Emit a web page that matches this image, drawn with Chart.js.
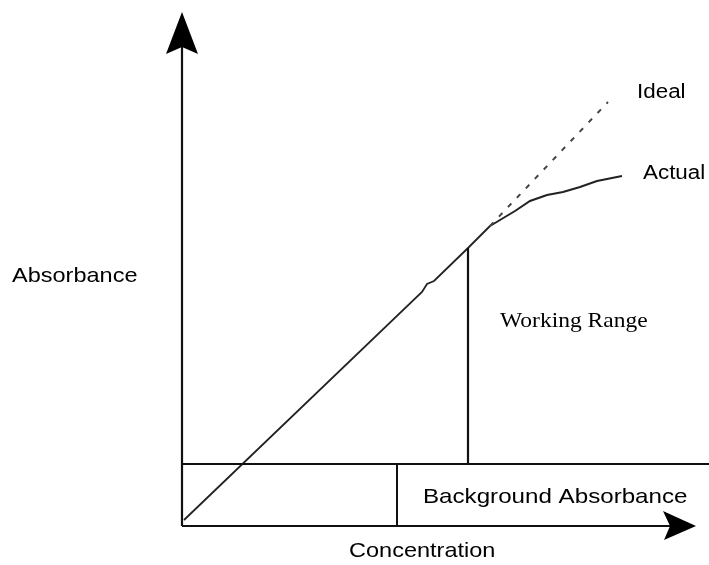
<!DOCTYPE html>
<html>
<head>
<meta charset="utf-8">
<title>Absorbance vs Concentration</title>
<script src="https://cdn.jsdelivr.net/npm/chart.js@4.4.1/dist/chart.umd.min.js"></script>
<style>
    html, body { margin: 0; padding: 0; background: #fff; }
    #wrap { width: 709px; height: 565px; }
</style>
</head>
<body>
<div id="wrap"><canvas id="absChart" width="709" height="565"></canvas></div>
<script>
// data units: concentration along x, absorbance along y (schematic, arbitrary units)
var linearConc = [0.04, 4.8, 4.9, 5.04, 5.72, 6.16];
var linearAbs = [0.12, 4.68, 4.84, 4.9, 5.56, 6.0];

var idealConc = [6.16, 8.52];
var idealAbs = [6.0, 8.48];

var actualConc = [6.16, 6.66, 6.96, 7.3, 7.62, 7.96, 8.3, 8.8];
var actualAbs = [6.0, 6.3, 6.5, 6.62, 6.68, 6.78, 6.9, 7.0];

var backgroundAbs = 1.24;        // level of the background absorbance line
var backgroundSplitConc = 4.3;   // divider under the background line
var workingLimitConc = 5.72;     // end of the working range
var workingTopAbs = 5.56;
var axisEndConc = 10.28;
var axisEndAbs = 10.28;

var labels = {
    ideal: "Ideal",
    actual: "Actual",
    yTitle: "Absorbance",
    working: "Working Range",
    background: "Background Absorbance",
    xTitle: "Concentration"
};

function pairs(xs, ys) {
    return xs.map(function (x, i) { return { x: x, y: ys[i] }; });
}

function lineSet(data, width, color, dash) {
    return {
        data: data,
        showLine: true,
        borderColor: color,
        borderWidth: width,
        borderDash: dash || [],
        pointRadius: 0,
        pointHoverRadius: 0,
        fill: false,
        tension: 0
    };
}

// arrow heads and free text, drawn after the lines
var sketchPlugin = {
    id: "sketch",
    afterDatasetsDraw: function (chart) {
        var ctx = chart.ctx;
        var xs = chart.scales.x;
        var ys = chart.scales.y;
        var ox = xs.getPixelForValue(0);
        var oy = ys.getPixelForValue(0);
        var yTip = ys.getPixelForValue(axisEndAbs);
        var xTip = xs.getPixelForValue(axisEndConc);

        ctx.save();
        ctx.fillStyle = "#000";
        // y arrow
        ctx.beginPath();
        ctx.moveTo(ox, yTip);
        ctx.lineTo(ox + 16, yTip + 42);
        ctx.lineTo(ox, yTip + 35);
        ctx.lineTo(ox - 16, yTip + 42);
        ctx.closePath();
        ctx.fill();
        // x arrow
        ctx.beginPath();
        ctx.moveTo(xTip, oy);
        ctx.lineTo(xTip - 33, oy - 15);
        ctx.lineTo(xTip - 26, oy);
        ctx.lineTo(xTip - 32, oy + 14);
        ctx.closePath();
        ctx.fill();

        function text(str, x, y, font, stretch) {
            ctx.save();
            ctx.font = font;
            ctx.textBaseline = "alphabetic";
            ctx.textAlign = "left";
            ctx.fillStyle = "#000";
            ctx.translate(x, y);
            ctx.scale(stretch, 1);
            ctx.fillText(str, 0, 0);
            ctx.restore();
        }

        var sans = "'Liberation Sans', Arial, sans-serif";
        var serif = "'Liberation Serif', 'Times New Roman', serif";
        text(labels.ideal, 637, 98, "20px " + sans, 1.12);
        text(labels.actual, 643, 179, "20px " + sans, 1.12);
        text(labels.yTitle, 12, 282, "21px " + sans, 1.12);
        text(labels.working, 500, 327, "21px " + serif, 1.12);
        text(labels.background, 423, 503, "21px " + sans, 1.15);
        text(labels.xTitle, 349, 557, "21px " + sans, 1.12);
        ctx.restore();
    }
};

document.addEventListener("DOMContentLoaded", function () {
    var ctx = document.getElementById("absChart").getContext("2d");
    var ink = "#111";

    var absChart = new Chart(ctx, {
        type: "scatter",
        data: {
            datasets: [
                // axes
                lineSet(pairs([0, 0], [0, axisEndAbs - 0.5]), 2.2, ink),
                lineSet(pairs([0, axisEndConc - 0.5], [0, 0]), 2.2, ink),
                // background absorbance box
                lineSet(pairs([0, 10.6], [backgroundAbs, backgroundAbs]), 2, ink),
                lineSet(pairs([backgroundSplitConc, backgroundSplitConc], [0, backgroundAbs]), 2, ink),
                // working range limit
                lineSet(pairs([workingLimitConc, workingLimitConc], [backgroundAbs, workingTopAbs]), 2.2, ink),
                // response curves
                lineSet(pairs(linearConc, linearAbs), 1.8, "#222"),
                lineSet(pairs(idealConc, idealAbs), 2, "#444", [5, 8]),
                lineSet(pairs(actualConc, actualAbs), 2, "#222")
            ]
        },
        options: {
            responsive: false,
            animation: false,
            events: [],
            layout: { padding: 0 },
            scales: {
                x: { type: "linear", display: false, min: -3.64, max: 10.54 },
                y: { type: "linear", display: false, min: -0.78, max: 10.52 }
            },
            plugins: {
                legend: { display: false },
                tooltip: { enabled: false }
            }
        },
        plugins: [sketchPlugin]
    });
});
</script>
</body>
</html>
